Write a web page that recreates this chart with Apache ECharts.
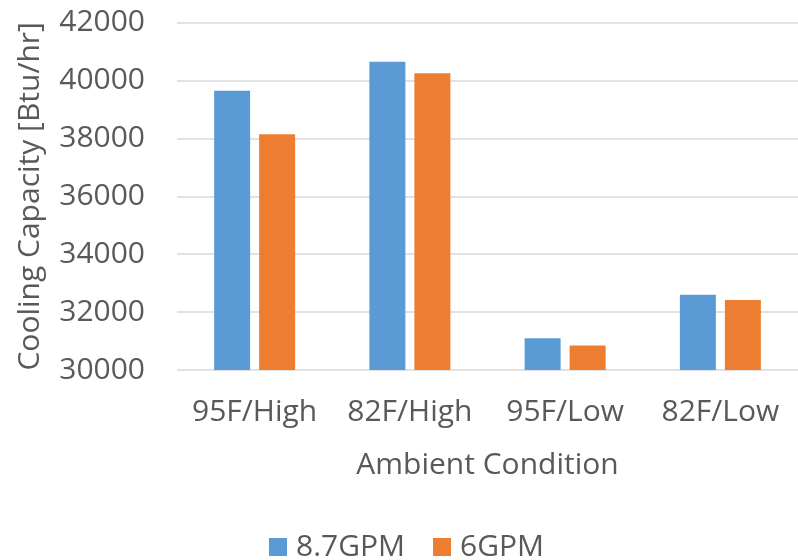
<!DOCTYPE html>
<html>
<head>
<meta charset="utf-8">
<script src="https://cdn.jsdelivr.net/npm/echarts@6/dist/echarts.min.js"></script>
<style>html,body{margin:0;padding:0;background:#fff;}#c{width:798px;height:560px;}</style>
</head>
<body>
<div id="c"></div>
<script>
const categories = ['95F/High', '82F/High', '95F/Low', '82F/Low'];
const gpm87 = [39650, 40650, 31100, 32600];
const gpm6 = [38150, 40250, 30850, 32420];
const yTicks = [30000, 32000, 34000, 36000, 38000, 40000, 42000];

const FONT = 'Open Sans';
const TXT = '#595959';
const FS = 30;
const chart = echarts.init(document.getElementById('c'));
chart.setOption({
  animation: false,
  textStyle: { fontFamily: FONT },
  grid: { left: 177, top: 22.7, width: 627, height: 347.3, containLabel: false },
  legend: {
    left: 264, top: 527,
    itemWidth: 18, itemHeight: 18, itemGap: 28,
    icon: 'rect',
    textStyle: { fontFamily: FONT, fontSize: FS, color: TXT, padding: [0, 0, 0, 4] },
    data: ['8.7GPM', '6GPM']
  },
  xAxis: {
    type: 'category',
    data: categories,
    name: 'Ambient Condition',
    nameLocation: 'middle',
    nameGap: 80,
    nameTextStyle: { fontFamily: FONT, fontSize: FS, color: TXT },
    axisLine: { show: false },
    axisTick: { show: false },
    axisLabel: { fontFamily: FONT, fontSize: FS, color: TXT, margin: 27, interval: 0 }
  },
  yAxis: {
    type: 'value',
    min: yTicks[0],
    max: yTicks[yTicks.length - 1],
    interval: 2000,
    name: 'Cooling Capacity [Btu/hr]',
    nameLocation: 'middle',
    nameGap: 132,
    nameTextStyle: { fontFamily: FONT, fontSize: FS, color: TXT },
    axisLine: { show: false },
    axisTick: { show: false },
    axisLabel: { fontFamily: FONT, fontSize: FS, color: TXT, margin: 32, formatter: v => String(v) },
    splitLine: { lineStyle: { color: '#d9d9d9', width: 1.5 } }
  },
  series: [
    { name: '8.7GPM', type: 'bar', data: gpm87, barWidth: 36, barGap: '25%', itemStyle: { color: '#5B9BD5' } },
    { name: '6GPM', type: 'bar', data: gpm6, barWidth: 36, barGap: '25%', itemStyle: { color: '#ED7D31' } }
  ]
});
</script>
</body>
</html>
